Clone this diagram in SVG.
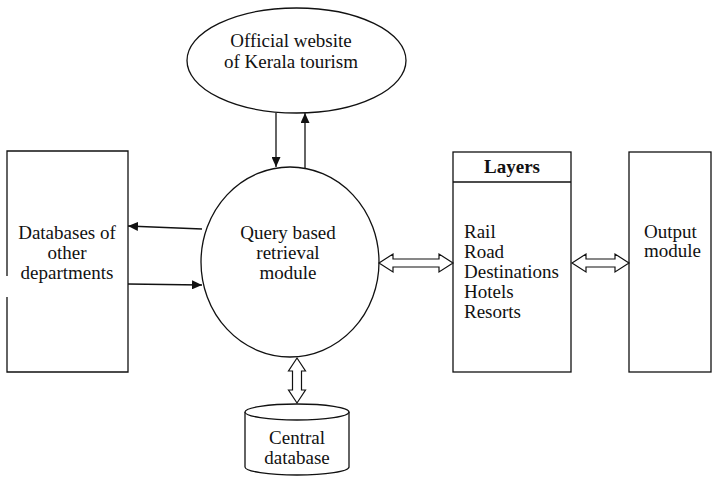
<svg xmlns="http://www.w3.org/2000/svg" width="712" height="477" viewBox="0 0 712 477">
  <style>
    .shape { fill: #ffffff; stroke: #111111; stroke-width: 1.3; }
    .line { fill: none; stroke: #111111; stroke-width: 1.3; }
    .hollow { fill: #ffffff; stroke: #111111; stroke-width: 1.2; stroke-linejoin: miter; }
    .label { font-family: "Liberation Serif", "Times New Roman", serif; font-size: 19px; fill: #111111; }
    .mid { text-anchor: middle; }
    .bold { font-weight: bold; }
  </style>
  <defs>
    <marker id="head" markerUnits="userSpaceOnUse" markerWidth="10" markerHeight="9" refX="10" refY="4.5" orient="auto">
      <path d="M0,0 L10,4.5 L0,9 Z" fill="#111111"/>
    </marker>
  </defs>

  <rect width="712" height="477" fill="#ffffff"/>

  <!-- Website node -->
  <g id="website">
    <ellipse class="shape" cx="296.5" cy="60.5" rx="109.5" ry="52.5"/>
    <text class="label mid" x="291" y="47">Official website</text>
    <text class="label mid" x="291" y="68">of Kerala tourism</text>
  </g>

  <!-- Other departments databases (left edge has a break) -->
  <g id="departments">
    <rect x="7" y="151" width="121" height="221" fill="#ffffff"/>
    <path class="line" d="M7,276 L7,151 L128,151 L128,372 L7,372 L7,297"/>
    <text class="label mid" x="67" y="239">Databases of</text>
    <text class="label mid" x="67" y="259">other</text>
    <text class="label mid" x="67" y="279">departments</text>
  </g>

  <!-- Query module -->
  <g id="query">
    <ellipse class="shape" cx="290" cy="262" rx="89" ry="95"/>
    <text class="label mid" x="288" y="239">Query based</text>
    <text class="label mid" x="288" y="259">retrieval</text>
    <text class="label mid" x="288" y="279">module</text>
  </g>

  <!-- Layers -->
  <g id="layers">
    <rect class="shape" x="453" y="152" width="118" height="220"/>
    <line class="line" x1="453" y1="182" x2="571" y2="182"/>
    <text class="label mid bold" x="512" y="173">Layers</text>
    <text class="label" x="464" y="238">Rail</text>
    <text class="label" x="464" y="258">Road</text>
    <text class="label" x="464" y="278">Destinations</text>
    <text class="label" x="464" y="298">Hotels</text>
    <text class="label" x="464" y="318">Resorts</text>
  </g>

  <!-- Output module -->
  <g id="output">
    <rect class="shape" x="629" y="152" width="82" height="220"/>
    <text class="label" x="644" y="238">Output</text>
    <text class="label" x="644" y="257">module</text>
  </g>

  <!-- Central database -->
  <g id="central">
    <path class="shape" d="M245,412 L245,467 A52,8 0 0 0 349,467 L349,412"/>
    <ellipse class="shape" cx="297" cy="412" rx="52" ry="8"/>
    <text class="label mid" x="297" y="444">Central</text>
    <text class="label mid" x="297" y="464">database</text>
  </g>

  <!-- Connectors -->
  <g id="connectors">
    <line class="line" x1="276" y1="113" x2="276" y2="167" marker-end="url(#head)"/>
    <line class="line" x1="305" y1="168" x2="305" y2="113" marker-end="url(#head)"/>
    <line class="line" x1="202" y1="229" x2="128" y2="226" marker-end="url(#head)"/>
    <line class="line" x1="128" y1="284" x2="202" y2="285" marker-end="url(#head)"/>
    <polygon class="hollow" points="379,263 393,254 393,259 439,259 439,254 453,263 439,272 439,267 393,267 393,272"/>
    <polygon class="hollow" points="572,263 586,254 586,259 615,259 615,254 629,263 615,272 615,267 586,267 586,272"/>
    <polygon class="hollow" points="297,358 305.5,371 301.5,371 301.5,390 305.5,390 297,403 288.5,390 292.5,390 292.5,371 288.5,371"/>
  </g>
</svg>
